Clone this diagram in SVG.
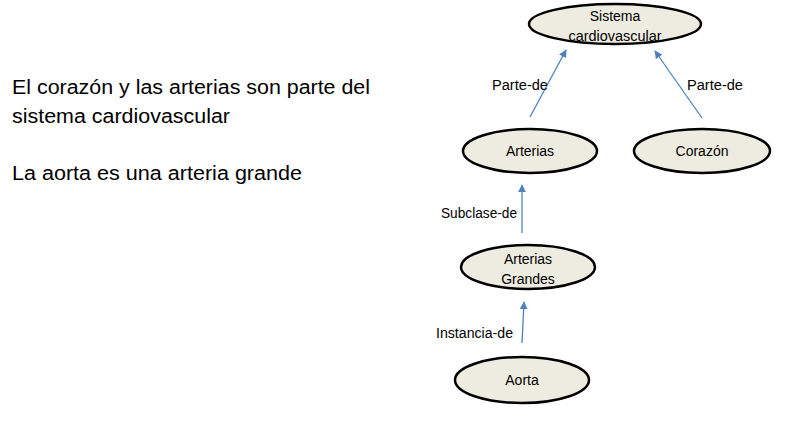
<svg xmlns="http://www.w3.org/2000/svg" width="789" height="442" viewBox="0 0 789 442">
<style>
.node ellipse{fill:#EEECE1;stroke:#000;stroke-width:2.5}
.nt{font-family:"Liberation Sans",Arial,sans-serif;font-size:14px;fill:#000;text-anchor:middle}
.el{font-family:"Liberation Sans",Arial,sans-serif;font-size:14px;fill:#000}
.body{font-family:"Liberation Sans",Arial,sans-serif;font-size:20px;fill:#000}
.edge{stroke:#4F81BD;stroke-width:1.3;fill:none;marker-end:url(#ah)}
</style>
<defs>
<marker id="ah" viewBox="0 0 10 10" refX="9" refY="5" markerWidth="8" markerHeight="8" markerUnits="userSpaceOnUse" orient="auto">
<path d="M0,0 L10,5 L0,10 z" fill="#4F81BD"/>
</marker>
</defs>
<rect width="789" height="442" fill="#fff"/>
<g id="text-left">
<text class="body" x="12" y="94" textLength="358" lengthAdjust="spacingAndGlyphs">El corazón y las arterias son parte del</text>
<text class="body" x="12" y="123" textLength="218" lengthAdjust="spacingAndGlyphs">sistema cardiovascular</text>
<text class="body" x="12" y="180" textLength="290" lengthAdjust="spacingAndGlyphs">La aorta es una arteria grande</text>
</g>
<g id="connectors">
<line class="edge" x1="530" y1="117" x2="566" y2="50"/>
<line class="edge" x1="702" y1="118" x2="655" y2="51"/>
<line class="edge" x1="522" y1="233" x2="522" y2="185"/>
<line class="edge" x1="522" y1="343" x2="524" y2="302"/>
<text class="el" x="492" y="90" textLength="56" lengthAdjust="spacingAndGlyphs">Parte-de</text>
<text class="el" x="687" y="90" textLength="56" lengthAdjust="spacingAndGlyphs">Parte-de</text>
<text class="el" x="441" y="218" textLength="76" lengthAdjust="spacingAndGlyphs">Subclase-de</text>
<text class="el" x="436" y="338" textLength="77" lengthAdjust="spacingAndGlyphs">Instancia-de</text>
</g>
<g id="sistema" class="node">
<ellipse cx="615" cy="24" rx="86" ry="20"/>
<text class="nt" x="615" y="21">Sistema</text>
<text class="nt" x="615" y="41" textLength="93" lengthAdjust="spacingAndGlyphs">cardiovascular</text>
</g>
<g id="arterias" class="node">
<ellipse cx="530" cy="151" rx="67" ry="22"/>
<text class="nt" x="530" y="156">Arterias</text>
</g>
<g id="corazon" class="node">
<ellipse cx="702" cy="151" rx="68" ry="22"/>
<text class="nt" x="702" y="156">Corazón</text>
</g>
<g id="arterias-grandes" class="node">
<ellipse cx="528" cy="267" rx="67" ry="22"/>
<text class="nt" x="528" y="264">Arterias</text>
<text class="nt" x="528" y="284">Grandes</text>
</g>
<g id="aorta" class="node">
<ellipse cx="522" cy="380" rx="67" ry="23"/>
<text class="nt" x="522" y="385">Aorta</text>
</g>
</svg>
